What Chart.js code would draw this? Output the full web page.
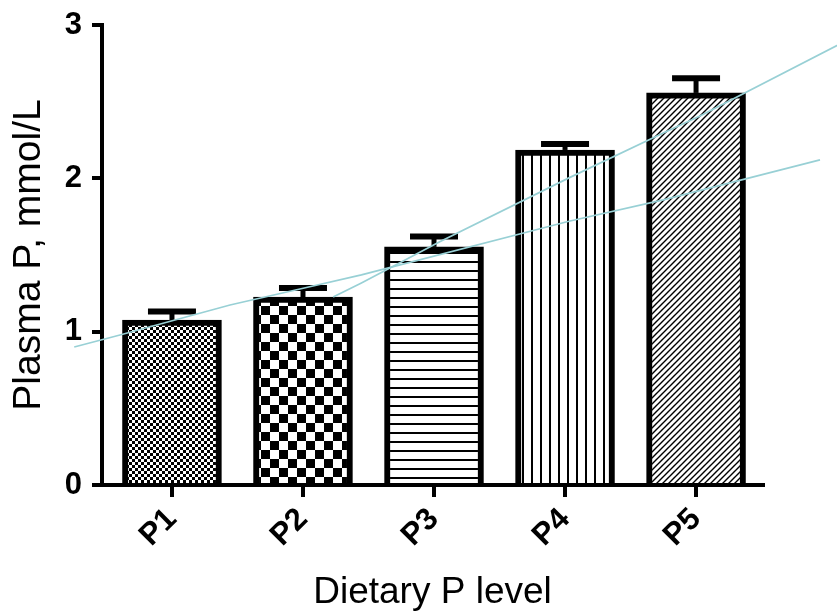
<!DOCTYPE html>
<html>
<head>
<meta charset="utf-8">
<script src="https://cdn.jsdelivr.net/npm/chart.js@4"></script>
<style>
  html, body { margin: 0; padding: 0; background: #fff; }
  #wrap { width: 837px; height: 611px; }
</style>
</head>
<body>
<div id="wrap"><canvas id="c"></canvas></div>
<script>
// ── DATA ───────────────────────────────────────────────
const levels  = ['P1', 'P2', 'P3', 'P4', 'P5'];
const plasmaP = [1.076, 1.226, 1.553, 2.185, 2.557];
const sem     = [0.056, 0.059, 0.068, 0.039, 0.095];
const yTicks  = [0, 1, 2, 3];

// two trend lines (x = level index, y = mmol/L)
const fitLowX  = [-0.746, -0.397, 0.443, 0.985, 1.446, 3.03, 3.75, 4.946];
const fitLowY  = [0.90, 0.978, 1.174, 1.28, 1.37, 1.72, 1.86, 2.12];
const fitHighX = [1.23, 1.446, 2.04, 3.03, 3.75, 4.03, 5.115];
const fitHighY = [1.226, 1.318, 1.585, 2.003, 2.296, 2.407, 2.883];

const cyan = '#98d0d5';

// ── FILL PATTERNS (one per bar) ────────────────────────
function makePattern(kind) {
  const c = document.createElement('canvas');
  const g = c.getContext('2d');
  if (kind === 'fine' || kind === 'coarse') {
    const s = kind === 'fine' ? 3 : 9;
    c.width = c.height = s * 2;
    g.fillStyle = '#fff'; g.fillRect(0, 0, s * 2, s * 2);
    g.fillStyle = '#000';
    g.fillRect(s, 0, s, s); g.fillRect(0, s, s, s);
  } else if (kind === 'hlines') {
    c.width = 4; c.height = 9;
    g.fillStyle = '#fff'; g.fillRect(0, 0, 4, 9);
    g.fillStyle = '#000'; g.fillRect(0, 0, 4, 2);
  } else if (kind === 'vlines') {
    c.width = 9; c.height = 4;
    g.fillStyle = '#fff'; g.fillRect(0, 0, 9, 4);
    g.fillStyle = '#000'; g.fillRect(0, 0, 2, 4);
  } else {
    c.width = c.height = 6;
    g.fillStyle = '#fff'; g.fillRect(0, 0, 6, 6);
    g.strokeStyle = '#000'; g.lineWidth = 1.4;
    g.beginPath();
    g.moveTo(0, 6); g.lineTo(6, 0);
    g.moveTo(-1, 1); g.lineTo(1, -1);
    g.moveTo(5, 7); g.lineTo(7, 5);
    g.stroke();
  }
  return g.createPattern(c, 'repeat');
}
const fills = ['fine', 'coarse', 'hlines', 'vlines', 'diag'].map(makePattern);

// ── ERROR BARS (mean + SEM, drawn right after the bars) ─
const errorBars = {
  id: 'errorBars',
  afterDatasetDraw(chart, args) {
    if (args.index !== 0) return;
    const g = chart.ctx, y = chart.scales.y;
    g.save();
    g.strokeStyle = '#000';
    args.meta.data.forEach((bar, i) => {
      const top = y.getPixelForValue(plasmaP[i] + sem[i]);
      g.lineWidth = 5;
      g.beginPath(); g.moveTo(bar.x, bar.y); g.lineTo(bar.x, top); g.stroke();
      g.lineWidth = 6;
      g.beginPath(); g.moveTo(bar.x - 24, top); g.lineTo(bar.x + 24, top); g.stroke();
    });
    g.restore();
  }
};

new Chart(document.getElementById('c'), {
  data: {
    datasets: [
      {
        type: 'bar',
        data: levels.map((l, i) => ({ x: i, y: plasmaP[i] })),
        backgroundColor: fills,
        borderColor: '#000',
        borderWidth: 6,
        borderSkipped: 'start',
        barThickness: 99,
        order: 2
      },
      {
        type: 'line',
        data: fitLowX.map((x, i) => ({ x, y: fitLowY[i] })),
        borderColor: cyan, borderWidth: 1.7, pointRadius: 0, clip: false, order: 1
      },
      {
        type: 'line',
        data: fitHighX.map((x, i) => ({ x, y: fitHighY[i] })),
        borderColor: cyan, borderWidth: 1.7, pointRadius: 0, clip: false, order: 1
      }
    ]
  },
  plugins: [errorBars],
  options: {
    responsive: true,
    maintainAspectRatio: false,
    animation: false,
    layout: { padding: { top: 25, right: 74, left: 0, bottom: 0 } },
    plugins: { legend: { display: false }, tooltip: { enabled: false } },
    scales: {
      x: {
        type: 'linear',
        offset: false,
        min: -0.534, max: 4.511,
        afterBuildTicks: s => { s.ticks = levels.map((l, i) => ({ value: i })); },
        afterFit: s => { s.height = 126; },
        ticks: {
          callback: (v, i) => levels[i],
          autoSkip: false, minRotation: 45, maxRotation: 45,
          font: { family: 'Arial', weight: 'bold', size: 31 },
          color: '#000', padding: 4
        },
        grid:   { offset: false, drawOnChartArea: false, color: '#000', lineWidth: 4, tickLength: 12 },
        border: { color: '#000', width: 4 },
        title: {
          display: true, text: 'Dietary P level', color: '#000',
          font: { family: 'Arial', size: 37 },
          padding: { top: 0, bottom: -4 }
        }
      },
      y: {
        min: 0, max: 3,
        afterBuildTicks: s => { s.ticks = yTicks.map(v => ({ value: v })); },
        afterFit: s => { s.width = 102; },
        ticks: {
          font: { family: 'Arial', weight: 'bold', size: 31, lineHeight: 0.9 },
          color: '#000', padding: 10
        },
        grid:   { drawOnChartArea: false, color: '#000', lineWidth: 4, tickLength: 10 },
        border: { color: '#000', width: 4 },
        title: {
          display: true, text: 'Plasma P, mmol/L', color: '#000',
          font: { family: 'Arial', size: 39 },
          padding: { top: 6, bottom: 0 }
        }
      }
    }
  }
});
</script>
</body>
</html>
